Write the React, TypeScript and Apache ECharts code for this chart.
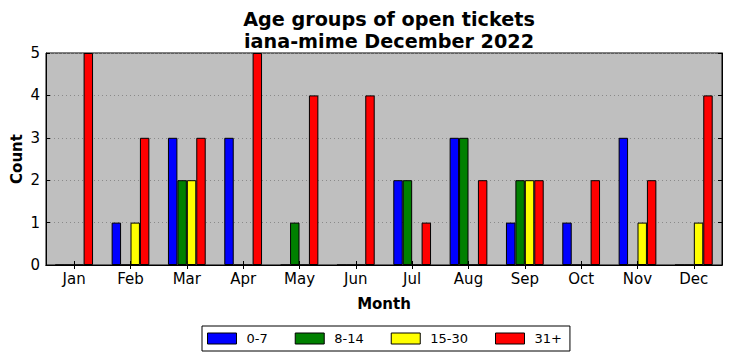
import React, { useEffect, useRef } from "react";
import * as echarts from "echarts";

const months = ["Jan", "Feb", "Mar", "Apr", "May", "Jun", "Jul", "Aug", "Sep", "Oct", "Nov", "Dec"];
const age0to7 = [0, 1, 3, 3, 0, 0, 2, 3, 1, 1, 3, 0];
const age8to14 = [0, 0, 2, 0, 1, 0, 2, 3, 2, 0, 0, 0];
const age15to30 = [0, 1, 2, 0, 0, 0, 0, 0, 2, 0, 1, 1];
const age31plus = [5, 3, 3, 5, 4, 4, 1, 2, 2, 2, 2, 4];
const seriesNames = ["0-7", "8-14", "15-30", "31+"];
const seriesColors = ["#0000ff", "#008000", "#ffff00", "#ff0000"];
const yTicks = [0, 1, 2, 3, 4, 5];

const FONT = "DejaVu Sans";

export default function App() {
  const ref = useRef<HTMLDivElement>(null);
  useEffect(() => {
    if (!ref.current) return;
    const chart = echarts.init(ref.current, null, { renderer: "svg" });
    const data = [age0to7, age8to14, age15to30, age31plus];
    chart.setOption({
      animation: false,
      textStyle: { fontFamily: FONT },
      title: {
        text: "Age groups of open tickets\niana-mime December 2022",
        left: 384,
        top: 3,
        textAlign: "center",
        textStyle: { fontFamily: FONT, fontSize: 19.2, fontWeight: "bold", color: "#000", lineHeight: 22 },
      },
      grid: {
        left: 46,
        right: 10,
        top: 53,
        bottom: 96,
        outerBoundsMode: "none",
        containLabel: false,
        show: true,
        backgroundColor: "#bfbfbf",
        borderColor: "#000",
        borderWidth: 1,
      },
      legend: {
        data: seriesNames,
        left: 202,
        top: 326,
        width: 365,
        height: 25,
        padding: [6, 8, 6, 5],
        itemGap: 27,
        itemWidth: 29,
        itemHeight: 11,
        backgroundColor: "#fff",
        borderColor: "#000",
        borderWidth: 1,
        borderRadius: 0,
        icon: "rect",
        itemStyle: { borderColor: "#000", borderWidth: 1 },
        textStyle: { fontFamily: FONT, fontSize: 13, color: "#000", padding: [0, 0, 0, 5] },
      },
      xAxis: [
        {
          type: "category",
          data: months,
          boundaryGap: true,
          name: "Month",
          nameLocation: "middle",
          nameGap: 31,
          nameMoveOverlap: false,
          nameTextStyle: { fontFamily: FONT, fontSize: 15, fontWeight: "bold", color: "#000" },
          axisLine: { show: true, lineStyle: { color: "#000", width: 1 } },
          axisTick: { show: true, inside: true, alignWithLabel: true, length: 4, lineStyle: { color: "#000" } },
          axisLabel: { fontFamily: FONT, fontSize: 15, color: "#000", margin: 6 },
          splitLine: { show: false },
        },
        {
          type: "category",
          data: months,
          position: "top",
          boundaryGap: true,
          axisLine: { show: true, lineStyle: { color: "#000", width: 1 } },
          axisTick: { show: true, inside: true, alignWithLabel: true, length: 4, lineStyle: { color: "#000" } },
          axisLabel: { show: false },
          splitLine: { show: false },
        },
      ],
      yAxis: [
        {
          type: "value",
          min: yTicks[0],
          max: yTicks[yTicks.length - 1],
          interval: 1,
          name: "Count",
          nameLocation: "middle",
          nameGap: 22,
          nameMoveOverlap: false,
          nameTextStyle: { fontFamily: FONT, fontSize: 15, fontWeight: "bold", color: "#000" },
          axisLine: { show: true, lineStyle: { color: "#000", width: 1 } },
          axisTick: { show: true, inside: true, length: 4, lineStyle: { color: "#000" } },
          axisLabel: { fontFamily: FONT, fontSize: 15, color: "#000", margin: 6 },
          splitLine: { show: true, lineStyle: { color: "#8a8a8a", width: 1, type: [1, 3] } },
        },
        {
          type: "value",
          position: "right",
          min: yTicks[0],
          max: yTicks[yTicks.length - 1],
          interval: 1,
          axisLine: { show: true, lineStyle: { color: "#000", width: 1 } },
          axisTick: { show: true, inside: true, length: 4, lineStyle: { color: "#000" } },
          axisLabel: { show: false },
          splitLine: { show: false },
        },
      ],
      series: seriesNames.map((name, i) => ({
        name,
        type: "bar",
        xAxisIndex: 0,
        yAxisIndex: 0,
        data: data[i],
        barGap: "0%",
        barCategoryGap: "33%",
        itemStyle: { color: seriesColors[i], borderColor: "#000", borderWidth: 1 },
      })),
    });
    return () => chart.dispose();
  }, []);
  return (
    <div
      ref={ref}
      style={{ position: "absolute", left: 0, top: 0, width: 732, height: 361, background: "#fff" }}
    />
  );
}
